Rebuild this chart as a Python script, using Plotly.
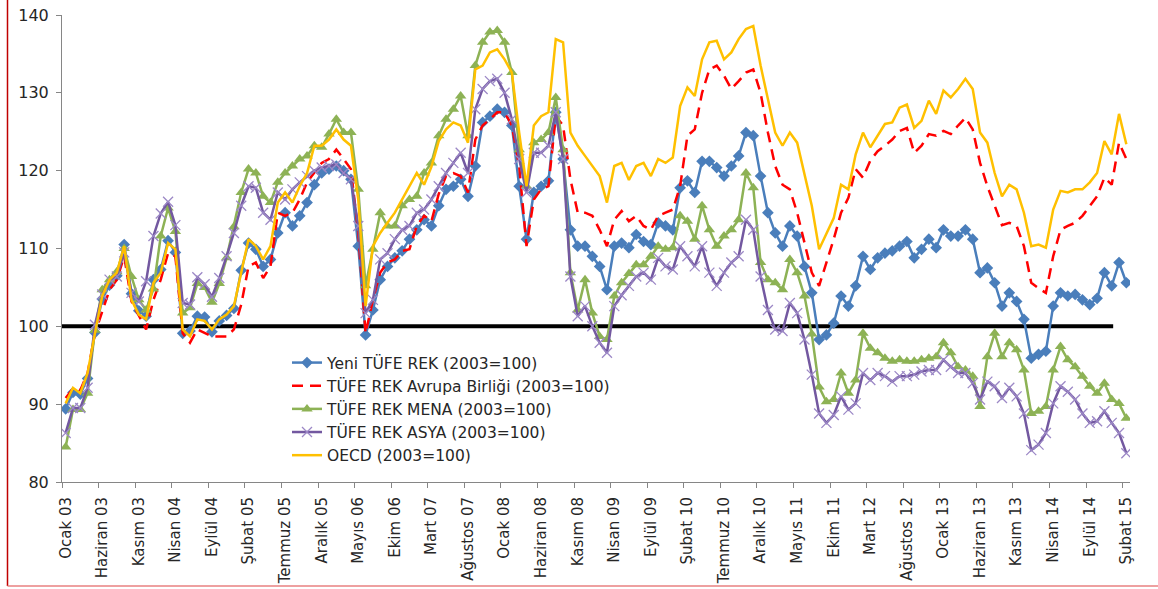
import plotly.graph_objects as go

# monthly categories Ocak 03 .. Şubat 15
months = ["Ocak", "Şubat", "Mart", "Nisan", "Mayıs", "Haziran", "Temmuz",
          "Ağustos", "Eylül", "Ekim", "Kasım", "Aralık"]
categories = [f"{m} {y:02d}" for y in range(3, 16) for m in months][:146]

yeni_tufe = [
    89.4, 91.5, 91.3, 93.3, 99.2, 103.5, 105.3, 106.5, 110.5, 104.2, 102.0, 101.3,
    106.0, 107.3, 111.0, 109.5, 99.1, 99.4, 101.3, 101.2, 99.3, 100.7, 101.4, 102.3,
    107.2, 110.7, 109.9, 107.7, 108.6, 112.0, 114.6, 112.9, 114.2, 115.9, 118.2, 119.7,
    120.2, 120.6, 120.0, 118.9, 110.3, 98.9, 102.1, 106.0, 107.7, 108.8, 109.7, 111.2,
    112.4, 113.7, 112.9, 115.5, 117.6, 118.0, 118.9, 116.7, 120.6, 126.2, 127.0, 127.9,
    127.5, 125.8, 118.0, 111.2, 117.2, 118.0, 118.7, 127.5, 121.5, 112.4, 110.3, 110.3,
    109.0, 107.7, 104.7, 110.3, 110.7, 110.1, 111.8, 110.9, 110.5, 113.3, 112.9, 112.4,
    117.8, 118.7, 117.2, 121.2, 121.2, 120.4, 119.3, 120.6, 121.9, 124.9, 124.5, 119.3,
    114.6, 112.0, 110.3, 112.9, 111.6, 107.7, 104.3, 98.3, 98.9, 100.4, 103.9, 102.6,
    105.2, 109.0, 107.3, 108.8, 109.4, 109.7, 110.3, 110.9, 108.8, 109.9, 111.2, 110.1,
    112.4, 111.6, 111.6, 112.4, 111.2, 106.9, 107.5, 105.6, 102.6, 104.3, 103.2, 100.9,
    95.9, 96.4, 96.8, 102.6, 104.3, 103.9, 104.1, 103.4, 102.8, 103.6, 106.9, 105.2,
    108.2, 105.6,
]

ab = [
    90.8, 92.0, 91.8, 94.0, 99.1, 101.9, 104.7, 106.0, 109.0, 103.2, 101.3, 99.6,
    103.4, 106.0, 109.4, 109.0, 99.1, 97.9, 99.6, 99.1, 98.7, 98.7, 98.7, 99.6,
    102.8, 107.7, 108.2, 106.2, 107.7, 114.6, 114.2, 114.6, 116.3, 118.5, 119.7, 121.0,
    121.5, 122.7, 121.5, 120.2, 112.0, 99.1, 103.4, 106.9, 108.2, 108.6, 109.7, 109.9,
    112.9, 114.2, 113.5, 117.0, 119.3, 119.7, 119.3, 117.2, 124.0, 125.8, 126.6, 127.5,
    127.5, 125.8, 120.6, 110.3, 116.3, 117.6, 118.0, 127.0, 125.8, 118.9, 114.6, 114.6,
    114.2, 112.4, 110.3, 113.7, 114.8, 113.5, 114.2, 112.9, 112.4, 114.2, 114.6, 115.0,
    118.0, 124.5, 125.3, 130.0, 133.0, 133.5, 132.2, 130.5, 131.5, 132.6, 133.0, 130.0,
    124.9, 120.6, 118.2, 117.6, 114.6, 110.7, 106.9, 105.2, 108.2, 111.2, 114.6, 116.5,
    120.2, 119.1, 121.3, 122.5, 123.2, 124.0, 125.1, 125.5, 122.3, 123.2, 124.7, 124.5,
    125.1, 124.7, 125.8, 126.8, 125.3, 121.0, 118.0, 115.5, 113.0, 113.3, 112.9, 110.3,
    105.6, 104.9, 104.3, 109.0, 112.4, 112.9, 113.3, 114.2, 115.5, 116.7, 119.1, 118.2,
    123.6, 121.5,
]

mena = [
    84.5, 89.3, 89.3, 91.4, 99.5, 104.7, 106.0, 107.0, 110.0, 106.4, 103.4, 102.1,
    104.8, 111.6, 115.2, 112.2, 101.7, 102.4, 105.5, 105.0, 103.1, 105.5, 108.8, 112.8,
    117.2, 120.2, 119.7, 116.7, 115.9, 118.5, 119.7, 120.6, 121.5, 121.9, 123.2, 123.0,
    124.7, 126.6, 124.9, 124.9, 117.6, 105.2, 109.9, 114.6, 112.9, 112.9, 115.5, 116.3,
    116.7, 119.7, 121.0, 124.5, 126.6, 127.9, 129.6, 124.5, 133.5, 136.5, 137.8, 138.0,
    136.5, 132.6, 122.7, 118.0, 123.6, 124.0, 124.9, 129.4, 122.7, 106.9, 102.1, 106.0,
    101.7, 98.7, 98.3, 103.9, 105.6, 106.8, 107.9, 107.9, 109.0, 110.3, 109.9, 110.1,
    114.2, 113.5, 111.2, 115.5, 112.4, 110.3, 111.6, 112.4, 113.7, 119.7, 117.8, 108.2,
    106.0, 105.6, 104.7, 108.6, 106.9, 103.9, 99.0, 92.2, 90.3, 90.6, 94.0, 91.4,
    93.1, 99.1, 97.2, 96.6, 95.9, 95.5, 95.7, 95.5, 95.5, 95.7, 95.9, 96.1,
    97.9, 96.6, 94.8, 94.4, 93.6, 89.7, 96.1, 99.1, 96.1, 97.9, 97.0, 94.4,
    88.8, 89.1, 89.7, 94.4, 97.4, 95.7, 94.8, 93.6, 92.3, 91.4, 92.7, 90.6,
    90.1, 88.2,
]

asya = [
    86.3, 89.5, 89.5, 92.1, 100.2, 104.1, 106.0, 106.4, 109.5, 104.3, 103.2, 105.8,
    111.6, 114.5, 116.0, 113.0, 103.0, 102.8, 106.3, 105.4, 103.8, 106.2, 109.0, 112.0,
    115.5, 118.0, 117.8, 114.6, 113.7, 117.2, 116.3, 117.6, 118.5, 119.3, 120.0, 120.4,
    120.6, 120.8, 119.7, 118.9, 112.9, 101.7, 103.4, 108.6, 109.4, 111.2, 112.4, 112.9,
    114.6, 115.0, 116.3, 118.0, 119.7, 121.0, 122.3, 119.7, 127.9, 130.5, 131.5, 131.8,
    130.0, 126.6, 121.5, 117.2, 122.3, 122.3, 123.2, 127.5, 121.5, 106.4, 101.3, 102.6,
    100.0, 97.9, 96.6, 102.6, 104.0, 105.2, 106.4, 106.9, 106.0, 108.8, 107.7, 107.3,
    110.3, 109.0, 107.7, 110.3, 106.9, 105.2, 106.9, 108.2, 109.0, 113.7, 112.4, 106.4,
    102.1, 99.6, 99.4, 103.0, 101.7, 98.3, 93.8, 88.8, 87.6, 88.6, 91.0, 89.3,
    90.1, 94.0, 93.1, 94.0, 93.6, 92.9, 93.6, 93.6, 93.8, 94.2, 94.4, 94.4,
    95.7, 94.8, 94.0, 94.0, 92.7, 90.6, 92.9, 92.3, 90.8, 92.1, 91.0, 88.8,
    84.1, 84.8, 86.3, 90.1, 92.3, 91.6, 90.6, 88.8, 87.6, 87.8, 89.1, 87.6,
    86.3, 83.7,
]

oecd = [
    90.1, 92.1, 91.4, 94.0, 99.1, 103.9, 106.0, 106.9, 110.3, 103.4, 101.5, 100.9,
    105.6, 106.9, 110.7, 109.9, 99.6, 98.7, 100.9, 100.7, 99.6, 100.9, 101.5, 102.6,
    106.9, 111.2, 110.3, 108.6, 110.3, 115.9, 117.2, 115.9, 118.0, 119.7, 123.2, 123.2,
    124.0, 125.3, 124.0, 123.2, 116.3, 102.6, 110.3, 112.0, 113.3, 114.6, 116.3, 118.0,
    119.7, 118.2, 120.5, 123.8, 125.3, 126.2, 125.8, 123.6, 133.0, 133.5, 135.2, 135.6,
    134.3, 132.6, 124.9, 118.0, 125.8, 127.0, 127.5, 136.9, 136.5, 124.9, 123.2, 121.9,
    120.6, 119.3, 115.9, 120.6, 121.0, 118.8, 120.6, 121.0, 119.3, 121.5, 121.0, 121.7,
    128.3, 130.7, 129.6, 134.3, 136.5, 136.7, 134.3, 135.2, 136.9, 138.2, 138.6, 133.5,
    129.2, 124.9, 123.2, 124.9, 123.6, 119.7, 115.5, 109.9, 112.0, 113.9, 118.2, 117.6,
    122.1, 124.9, 123.0, 124.5, 126.0, 126.2, 128.1, 128.5, 125.5, 126.4, 129.0, 127.3,
    130.3, 129.4, 130.5, 131.8, 130.5, 124.9, 123.6, 119.7, 116.7, 118.2, 117.6, 114.6,
    110.3, 110.5, 110.1, 115.0, 117.4, 117.2, 117.6, 117.6, 118.5, 119.7, 123.8, 122.1,
    127.3, 123.4,
]

x = list(range(len(categories)))
tick_idx = list(range(0, len(categories), 5))

FONT = "DejaVu Sans"
W, H = 1158, 589
# plot area in pixels: x 62..1130, y 15..482
PX0, PX1, PY0, PY1 = 62, 1130, 15, 482
L, R, T, B = PX0, W - PX1, PY0, H - PY1
pw, ph = PX1 - PX0, PY1 - PY0


def px(wx):
    return (wx - PX0) / pw


def py(wy):
    return (PY1 - wy) / ph


fig = go.Figure()
fig.add_trace(go.Scatter(
    x=x, y=yeni_tufe, mode="lines+markers", name="Yeni TÜFE REK (2003=100)",
    line=dict(color="#4A7EBB", width=2.5),
    marker=dict(symbol="diamond", size=9, color="#4A7EBB")))
fig.add_trace(go.Scatter(
    x=x, y=ab, mode="lines", name="TÜFE REK Avrupa Birliği (2003=100)",
    line=dict(color="#FF0000", width=2.5, dash="11px,7px")))
fig.add_trace(go.Scatter(
    x=x, y=mena, mode="lines+markers", name="TÜFE REK MENA (2003=100)",
    line=dict(color="#8DB255", width=2.5),
    marker=dict(symbol="triangle-up", size=10, color="#8DB255")))
fig.add_trace(go.Scatter(
    x=x, y=asya, mode="lines+markers", name="TÜFE REK ASYA (2003=100)",
    line=dict(color="#7358A0", width=2.5),
    marker=dict(symbol="x-thin", size=10, line=dict(color="#9C88C6", width=1.3))))
fig.add_trace(go.Scatter(
    x=x, y=oecd, mode="lines", name="OECD (2003=100)",
    line=dict(color="#FFC000", width=2.5)))

# 100 reference line
fig.add_shape(type="line", xref="x", yref="y", x0=-0.5, x1=143.2, y0=100, y1=100,
              line=dict(color="black", width=4), layer="below")

# red frame edges of the original picture
fig.add_shape(type="line", xref="paper", yref="paper",
              x0=px(7.5), x1=px(7.5), y0=py(586), y1=py(0),
              line=dict(color="#C00000", width=1.5))
fig.add_shape(type="line", xref="paper", yref="paper",
              x0=px(7.5), x1=px(W), y0=py(586), y1=py(586),
              line=dict(color="#E88080", width=1.5))

fig.update_layout(
    width=W, height=H,
    margin=dict(l=L, r=R, t=T, b=B, autoexpand=False),
    paper_bgcolor="white", plot_bgcolor="white",
    font=dict(family=FONT, color="#262626"),
    showlegend=True,
    legend=dict(x=px(287), y=py(346), xanchor="left", yanchor="top",
                bgcolor="rgba(0,0,0,0)", font=dict(family=FONT, size=15.5, color="#262626"),
                tracegroupgap=0),
    xaxis=dict(
        range=[-0.5, len(categories) - 0.5], automargin=False,
        tickmode="array", tickvals=tick_idx, ticktext=[categories[i] for i in tick_idx],
        tickangle=-90, ticks="outside", ticklen=5, tickcolor="rgba(0,0,0,0)",
        ticklabelstandoff=3, ticklabeloverflow="allow",
        tickfont=dict(family=FONT, size=15, color="#262626"),
        showline=True, linecolor="#868686", linewidth=1, showgrid=False, zeroline=False,
        minor=dict(tickmode="array", tickvals=[i - 0.5 for i in tick_idx],
                   ticks="outside", ticklen=5, tickcolor="#868686"),
    ),
    yaxis=dict(
        range=[80, 140], dtick=10, ticks="outside", ticklen=5, tickcolor="#868686",
        automargin=False, ticklabelstandoff=4, ticklabeloverflow="allow",
        tickfont=dict(family=FONT, size=16, color="#262626"),
        showline=True, linecolor="#868686", linewidth=1, showgrid=False, zeroline=False,
    ),
)

# drop the page's default body margin so the figure fills the window exactly
fig.write_html("out.html", config={"displayModeBar": False},
               post_script="document.body.style.margin='0';")
